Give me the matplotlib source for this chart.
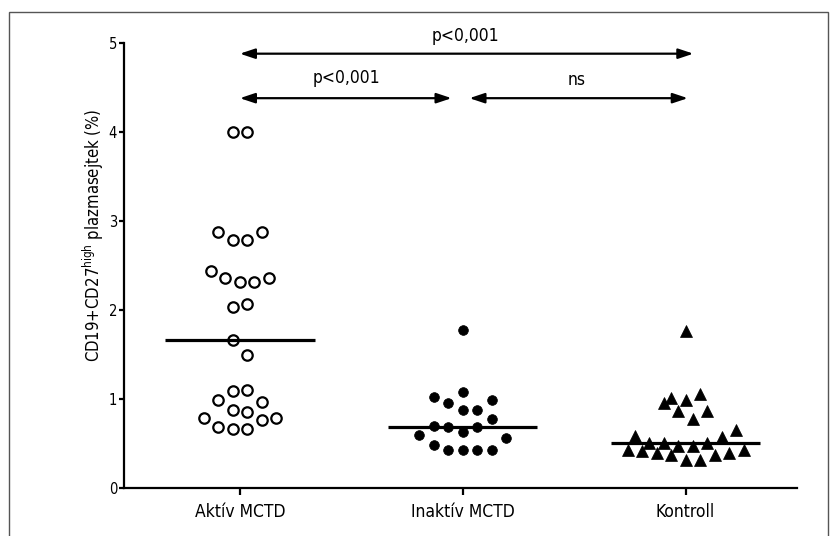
import numpy as np
import matplotlib
matplotlib.use("Agg")
import matplotlib.pyplot as plt
from matplotlib import font_manager
from matplotlib.patches import FancyArrowPatch, Rectangle

# values
categories = ["Aktív MCTD", "Inaktív MCTD", "Kontroll"]
aktiv = [4.0, 4.0, 2.88, 2.79, 2.79, 2.88, 2.36, 2.31, 2.31, 2.36, 2.44, 2.03, 2.07,
         1.66, 1.49, 1.09, 1.10, 0.99, 0.97, 0.88, 0.85, 0.79, 0.76, 0.79, 0.68, 0.66, 0.66]
inaktiv = [1.77, 1.075, 1.02, 0.99, 0.96, 0.88, 0.88, 0.78, 0.70, 0.68, 0.68, 0.63,
           0.60, 0.56, 0.48, 0.43, 0.43, 0.43, 0.43]
kontroll = [1.76, 1.06, 0.99, 1.01, 0.95, 0.87, 0.87, 0.78, 0.65, 0.57, 0.58, 0.51, 0.51,
            0.51, 0.47, 0.47, 0.43, 0.42, 0.39, 0.37, 0.31, 0.31, 0.37, 0.39, 0.43]
yticks = [0, 1, 2, 3, 4, 5]
ylabel = r"CD19+CD27$^{\mathrm{high}}$ plazmasejtek (%)"
comparisons = [(0, 2, "p<0,001"), (0, 1, "p<0,001"), (1, 2, "ns")]

# narrow sans like the original, if one is installed
fonts = font_manager.fontManager.ttflist
names = {f.name for f in fonts}
if "Liberation Sans Narrow" in names:
    family, stretch = "Liberation Sans Narrow", "normal"
elif any(f.name == "DejaVu Sans" and f.stretch == "condensed" for f in fonts):
    family, stretch = "DejaVu Sans", "condensed"
else:
    family, stretch = "Liberation Sans", "normal"
plt.rcParams["font.family"] = [family, "DejaVu Sans"]
plt.rcParams["font.stretch"] = stretch
plt.rcParams["mathtext.fontset"] = "custom"
plt.rcParams["mathtext.rm"] = family
plt.rcParams["mathtext.it"] = family


def swarm(vals, step, row_h, first_side, max_row=9):
    # Prism-like rows: sort, cut rows by height, spread each row from the centre out
    vals = np.asarray(vals, float)
    order = np.argsort(vals, kind="stable")
    rows = [[order[0]]]
    for j in order[1:]:
        if vals[j] - vals[rows[-1][0]] < row_h and len(rows[-1]) < max_row:
            rows[-1].append(j)
        else:
            rows.append([j])
    xs = np.zeros(len(vals))
    for r, row in enumerate(rows):
        n = len(row)
        sign = first_side if r % 2 == 0 else -first_side
        if n % 2:
            slots = [0] + [s * m for m in range(1, n) for s in (sign, -sign)]
        else:
            slots = [s * (m - 0.5) for m in range(1, n) for s in (sign, -sign)]
        for j, s in zip(row, slots):
            xs[j] = s * step
    return xs


fig = plt.figure(figsize=(8.36, 5.36), dpi=100)
ax = fig.add_axes([124 / 836, 48 / 536, 673 / 836, 445 / 536])
ax.set_xlim(-0.52, 2.5)
ax.set_ylim(0, 5)

styles = [dict(marker="o", ms=7.5, mfc="none", mec="black", mew=1.6),
          dict(marker="o", ms=7, mfc="black", mec="black", mew=0.5),
          dict(marker="^", ms=8, mfc="black", mec="black", mew=0.5)]
sides = [-1, 1, 1]
for i, (vals, st) in enumerate(zip([aktiv, inaktiv, kontroll], styles)):
    off = swarm(vals, 0.065, 0.185, sides[i])
    ax.plot(i + off, vals, ls="none", zorder=2, **st)
    ax.hlines(np.median(vals), i - 0.335, i + 0.335, color="black", lw=2.3, zorder=3)

# significance arrows
arrow_kw = dict(arrowstyle="<|-|>,head_length=0.9,head_width=0.3", mutation_scale=10,
                color="black", lw=1.6, shrinkA=0, shrinkB=0, clip_on=False)
spans = {(0, 2): (0.0, 2.035, 4.88, 1.01, 5.08), (0, 1): (0.0, 0.95, 4.38, 0.48, 4.61),
         (1, 2): (1.03, 2.01, 4.38, 1.51, 4.58)}
for a, b, lab in comparisons:
    x0, x1, ya, xt, yt = spans[(a, b)]
    ax.add_patch(FancyArrowPatch((x0, ya), (x1, ya), **arrow_kw))
    ax.text(xt, yt, lab, ha="center", va="center", fontsize=12.5, clip_on=False)

ax.set_xticks(range(len(categories)))
ax.set_xticklabels(categories, fontsize=12.5)
ax.set_yticks(yticks)
ax.set_yticklabels([str(t) for t in yticks], fontsize=10.5)
ax.tick_params(axis="both", direction="out", width=1.6, color="black")
ax.tick_params(axis="x", length=5, pad=6)
ax.tick_params(axis="y", length=3.5, pad=1.5)
for s in ["top", "right"]:
    ax.spines[s].set_visible(False)
for s in ["left", "bottom"]:
    ax.spines[s].set_linewidth(1.6)

ax.set_ylabel(ylabel, fontsize=12, va="center")
ax.yaxis.set_label_coords(-0.045, 0.569)

# thin frame around the figure as in the scan
fig.add_artist(Rectangle((9 / 836, -0.02), 819 / 836, 1.0 - 12 / 536 + 0.02,
                         transform=fig.transFigure, fill=False, ec="#555555", lw=1))

fig.savefig("out.png", dpi=100)
